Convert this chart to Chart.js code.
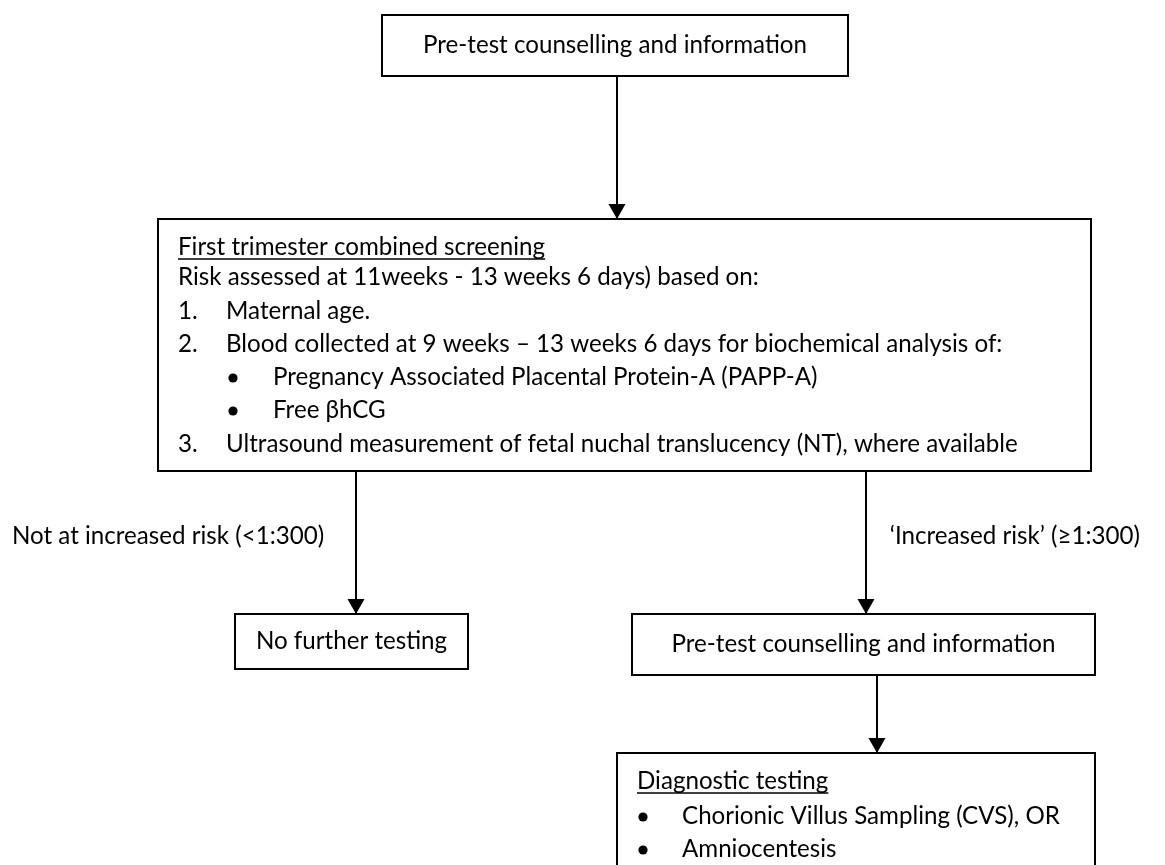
<!doctype html>
<html>
<head>
<meta charset="utf-8" />
<title>First trimester screening pathway</title>
<script src="https://cdn.jsdelivr.net/npm/chart.js@4.4.1/dist/chart.umd.min.js"></script>
<style>
  html, body { margin: 0; padding: 0; background: #fff; }
  #wrap { width: 1165px; height: 865px; position: relative; }
</style>
</head>
<body>
<div id="wrap"><canvas id="chart1"></canvas></div>
<script>
// ---- texts of the flowchart ----
var topBoxText = "Pre-test counselling and information";
var screeningTitle = "First trimester combined screening";
var screeningIntro = "Risk assessed at 11weeks - 13 weeks 6 days) based on:";
var screeningItems = [
  "Maternal age.",
  "Blood collected at 9 weeks \u2013 13 weeks 6 days for biochemical analysis of:",
  "Ultrasound measurement of fetal nuchal translucency (NT), where available"
];
var bloodTests = ["Pregnancy Associated Placental Protein-A (PAPP-A)", "Free \u03b2hCG"];
var branchLabels = ["Not at increased risk (<1:300)", "\u2018Increased risk\u2019 (\u22651:300)"];
var outcomeBoxes = ["No further testing", "Pre-test counselling and information"];
var diagnosticTitle = "Diagnostic testing";
var diagnosticOptions = ["Chorionic Villus Sampling (CVS), OR", "Amniocentesis"];

// ---- layout (in scale units, 1 unit = 1 px, y grows downward) ----
var layout = {
  top:    { x0: 382, x1: 848, y0: 15,  y1: 76 },
  screen: { x0: 158, x1: 1091, y0: 219, y1: 471 },
  noTest: { x0: 235, x1: 468, y0: 614, y1: 669 },
  preTest:{ x0: 632, x1: 1095, y0: 614, y1: 675 },
  diag:   { x0: 617, x1: 1095, y0: 753, y1: 880 },
  arrowX: { main: 617, left: 356, right: 866, lower: 877 },
  screenLines: [255, 285, 319, 352, 385, 418, 452],
  diagLines: [789, 824, 857],
  labelBaseline: 544
};

var FONT_FAMILY = "Lato, 'Liberation Sans', sans-serif";
var fontPx = 22;

function arrowSet(x, y0, y1) {
  return {
    type: 'line',
    data: [{ x: x, y: y0 }, { x: x, y: y1 }],
    borderColor: '#000',
    borderWidth: 2,
    pointRadius: 0,
    showLine: true,
    fill: false
  };
}

var arrows = [
  arrowSet(layout.arrowX.main, layout.top.y1, layout.screen.y0),
  arrowSet(layout.arrowX.left, layout.screen.y1, layout.noTest.y0),
  arrowSet(layout.arrowX.right, layout.screen.y1, layout.preTest.y0),
  arrowSet(layout.arrowX.lower, layout.preTest.y1, layout.diag.y0)
];

var flowPlugin = {
  id: 'flow',
  beforeDatasetsDraw: function(chart) {
    var ctx = chart.ctx;
    var sx = chart.scales.x, sy = chart.scales.y;
    var X = function(v) { return sx.getPixelForValue(v); };
    var Y = function(v) { return sy.getPixelForValue(v); };

    // fit font so the box text matches the reference width
    ctx.save();
    ctx.font = '100px ' + FONT_FAMILY;
    var w = ctx.measureText(topBoxText).width;
    fontPx = 100 * 384 / w;
    ctx.font = fontPx.toFixed(2) + 'px ' + FONT_FAMILY;
    ctx.fillStyle = '#000';
    ctx.strokeStyle = '#000';
    ctx.textBaseline = 'alphabetic';

    function box(b) {
      ctx.lineWidth = 2;
      ctx.strokeRect(X(b.x0), Y(b.y0), X(b.x1) - X(b.x0), Y(b.y1) - Y(b.y0));
    }
    function centred(b, text) {
      ctx.textAlign = 'center';
      var cy = (Y(b.y0) + Y(b.y1)) / 2 + fontPx * 0.32;
      ctx.fillText(text, (X(b.x0) + X(b.x1)) / 2, cy);
    }
    function left(text, x, y, underline) {
      ctx.textAlign = 'left';
      ctx.fillText(text, X(x), Y(y));
      if (underline) {
        var tw = ctx.measureText(text).width;
        ctx.lineWidth = 1.6;
        ctx.beginPath();
        ctx.moveTo(X(x), Y(y) + 4);
        ctx.lineTo(X(x) + tw, Y(y) + 4);
        ctx.stroke();
      }
    }
    function bullet(x, y) {
      ctx.beginPath();
      ctx.arc(X(x), Y(y) - 7, 4.6, 0, Math.PI * 2);
      ctx.fill();
    }

    [layout.top, layout.screen, layout.noTest, layout.preTest, layout.diag].forEach(box);

    centred(layout.top, topBoxText);
    centred(layout.noTest, outcomeBoxes[0]);
    centred(layout.preTest, outcomeBoxes[1]);

    var L = layout.screenLines;
    left(screeningTitle, 178, L[0], true);
    left(screeningIntro, 178, L[1]);
    left('1.', 178, L[2]); left(screeningItems[0], 226, L[2]);
    left('2.', 178, L[3]); left(screeningItems[1], 226, L[3]);
    bullet(233, L[4]); left(bloodTests[0], 273, L[4]);
    bullet(233, L[5]); left(bloodTests[1], 273, L[5]);
    left('3.', 178, L[6]); left(screeningItems[2], 226, L[6]);

    var D = layout.diagLines;
    left(diagnosticTitle, 637, D[0], true);
    bullet(643, D[1]); left(diagnosticOptions[0], 682, D[1]);
    bullet(643, D[2]); left(diagnosticOptions[1], 682, D[2]);

    ctx.textAlign = 'left';
    ctx.fillText(branchLabels[0], X(12), Y(layout.labelBaseline));
    ctx.textAlign = 'right';
    ctx.fillText(branchLabels[1], X(1140), Y(layout.labelBaseline));
    ctx.restore();
  },
  afterDatasetsDraw: function(chart) {
    // arrowheads at the end of each arrow dataset
    var ctx = chart.ctx;
    ctx.save();
    ctx.fillStyle = '#000';
    chart.data.datasets.forEach(function(ds, i) {
      var meta = chart.getDatasetMeta(i);
      var tip = meta.data[1];
      ctx.beginPath();
      ctx.moveTo(tip.x, tip.y);
      ctx.lineTo(tip.x - 8.5, tip.y - 15);
      ctx.lineTo(tip.x + 8.5, tip.y - 15);
      ctx.closePath();
      ctx.fill();
    });
    ctx.restore();
  }
};

var chart1 = new Chart('chart1', {
  type: 'scatter',
  data: { datasets: arrows },
  options: {
    responsive: true,
    maintainAspectRatio: false,
    animation: false,
    layout: { padding: 0 },
    plugins: { legend: { display: false }, tooltip: { enabled: false } },
    scales: {
      x: { type: 'linear', min: 0, max: 1165, display: false },
      y: { type: 'linear', min: 0, max: 865, reverse: true, display: false }
    }
  },
  plugins: [flowPlugin]
});
</script>
</body>
</html>
